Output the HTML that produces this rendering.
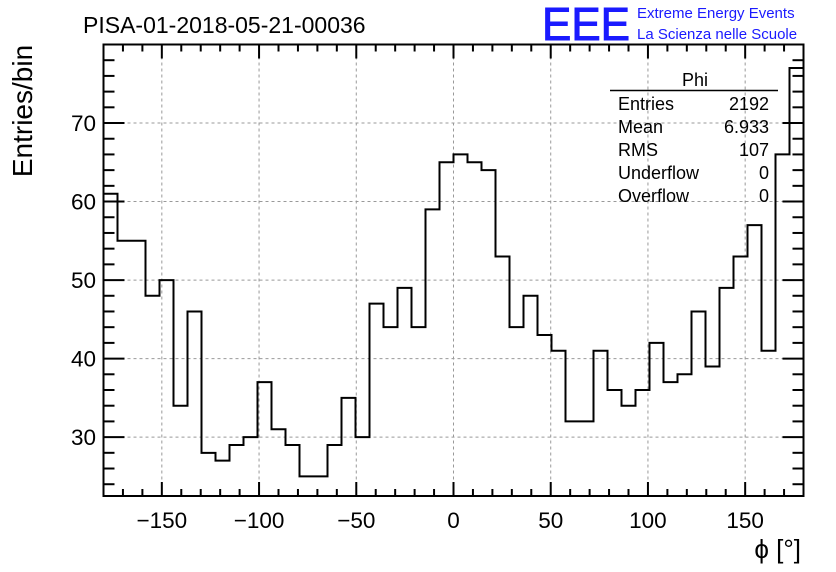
<!DOCTYPE html>
<html><head><meta charset="utf-8"><style>
body{margin:0;background:#fff;}
svg{display:block;font-family:"Liberation Sans",sans-serif;}
</style></head><body>
<svg id="c" width="836" height="572" viewBox="0 0 836 572">
<text x="83" y="33" font-size="23">PISA-01-2018-05-21-00036</text>
<text x="542" y="40" font-size="46" fill="#1a1aff" stroke="#1a1aff" stroke-width="1" textLength="88" lengthAdjust="spacingAndGlyphs">EEE</text>
<text x="637" y="18" font-size="15" fill="#1a1aff">Extreme Energy Events</text>
<text x="637" y="39" font-size="15" fill="#1a1aff">La Scienza nelle Scuole</text>
<text transform="translate(32,111) rotate(-90)" text-anchor="middle" font-size="28">Entries/bin</text>
<text x="801" y="558" text-anchor="end" font-size="26">ϕ [°]</text>
<g id="grid"></g>
<g id="ticks"></g>
<path id="hist" fill="none" stroke="#000" stroke-width="2"/>
<rect x="103.5" y="44.5" width="700" height="451.5" fill="none" stroke="#000" stroke-width="2"/>
<g font-size="18">
<text x="695" y="86" text-anchor="middle">Phi</text>
<line x1="610" y1="90.5" x2="778" y2="90.5" stroke="#000" stroke-width="1.5"/>
<text x="618" y="110">Entries</text><text x="769" y="110" text-anchor="end">2192</text>
<text x="618" y="133">Mean</text><text x="769" y="133" text-anchor="end">6.933</text>
<text x="618" y="156">RMS</text><text x="769" y="156" text-anchor="end">107</text>
<text x="618" y="179">Underflow</text><text x="769" y="179" text-anchor="end">0</text>
<text x="618" y="202">Overflow</text><text x="769" y="202" text-anchor="end">0</text>
</g>
</svg>
<script>
const counts=[61,55,55,48,50,34,46,28,27,29,30,37,31,29,25,25,29,35,30,47,44,49,44,59,65,66,65,64,53,44,48,43,41,32,32,41,36,34,36,42,37,38,46,39,49,53,57,41,66,77];
const xTicks=[-150,-100,-50,0,50,100,150];
const yTicks=[30,40,50,60,70];
const xMin=-180,xMax=180,yMin=22.5,yMax=80;
const L=103.5,R=803.5,T=44.5,B=496;
function X(v){return L+(v-xMin)*(R-L)/(xMax-xMin);}
function Y(v){return B-(v-yMin)*(B-T)/(yMax-yMin);}
const NS="http://www.w3.org/2000/svg";
const svg=document.getElementById('c'),grid=document.getElementById('grid'),tk=document.getElementById('ticks');
function ln(p,x1,y1,x2,y2,st,w,dash){const l=document.createElementNS(NS,'line');l.setAttribute('x1',x1);l.setAttribute('y1',y1);l.setAttribute('x2',x2);l.setAttribute('y2',y2);l.setAttribute('stroke',st);l.setAttribute('stroke-width',w);if(dash)l.setAttribute('stroke-dasharray',dash);p.appendChild(l);return l;}
xTicks.forEach(v=>{
  const g=ln(grid,X(v),T,X(v),B,'#999',1,'3,3');
  
  
  const t=document.createElementNS(NS,'text');t.setAttribute('x',X(v));t.setAttribute('y',528);t.setAttribute('text-anchor','middle');t.setAttribute('font-size','22.5');
  t.textContent=(v<0?'\u2212'+(-v):v);
  
  
  svg.appendChild(t);
});
yTicks.forEach(v=>{
  const g=ln(grid,L,Y(v),R,Y(v),'#999',1,'3,3');
  
  
  const t=document.createElementNS(NS,'text');t.setAttribute('x',96);t.setAttribute('y',Y(v)+8);t.setAttribute('text-anchor','end');t.setAttribute('font-size','22.5');
  t.textContent=v;
  
  
  svg.appendChild(t);
});
for(let v=-180;v<=180;v+=10){const m=(v%50===0);const h=m?14:7;ln(tk,X(v),B,X(v),B-h,'#000',2);ln(tk,X(v),T,X(v),T+h,'#000',2);}
for(let v=24;v<=80;v+=2){const m=(v%10===0);const w=m?21:11;ln(tk,L,Y(v),L+w,Y(v),'#000',2);ln(tk,R,Y(v),R-w,Y(v),'#000',2);}
const bw=(xMax-xMin)/counts.length;
let d='M'+X(xMin)+','+Y(counts[0]);
counts.forEach((c,i)=>{d+=' L'+X(xMin+i*bw)+','+Y(c)+' L'+X(xMin+(i+1)*bw)+','+Y(c);});
document.getElementById('hist').setAttribute('d',d);
</script>
</body></html>
